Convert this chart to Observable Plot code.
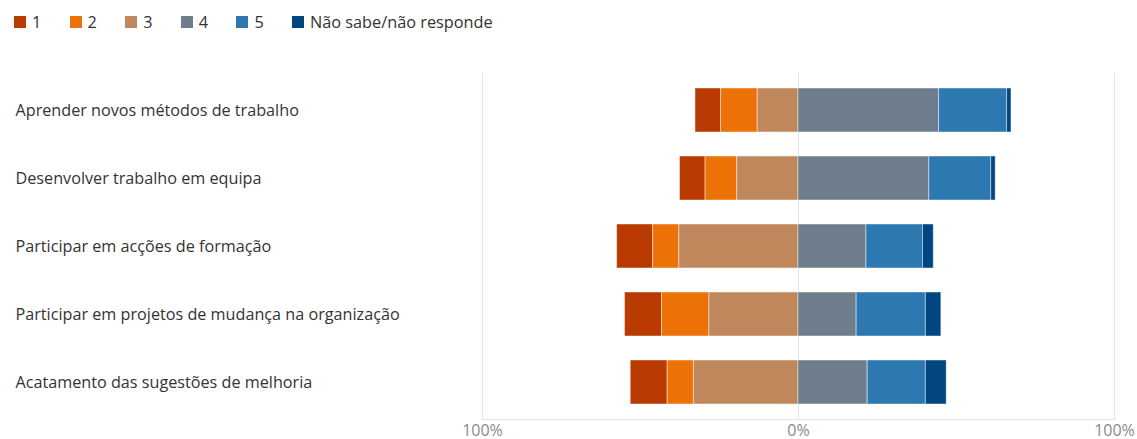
<!DOCTYPE html>
<html>
<head>
<meta charset="utf-8">
<script src="https://cdn.jsdelivr.net/npm/d3@7"></script>
<script src="https://cdn.jsdelivr.net/npm/@observablehq/plot@0.6"></script>
<style>
  html, body { margin: 0; padding: 0; background: #fff; }
  body { width: 1137px; height: 439px; overflow: hidden; font-family: "Open Sans", sans-serif; }
  #legend { box-sizing: border-box; height: 40px; padding-top: 3px; display: flex; align-items: center; padding-left: 14px; font-size: 16.3px; color: #333; }
  .item { display: flex; align-items: center; width: 55.6px; flex: none; }
  .item:last-child { width: auto; }
  .sw { width: 12px; height: 12px; margin-right: 6px; flex: none; }
</style>
</head>
<body>
<div id="legend"></div>
<div id="chart"></div>
<script>
const categories = [
  "Aprender novos métodos de trabalho",
  "Desenvolver trabalho em equipa",
  "Participar em acções de formação",
  "Participar em projetos de mudança na organização",
  "Acatamento das sugestões de melhoria"
];
const series = ["1", "2", "3", "4", "5", "Não sabe/não responde"];
const colors = ["#b93b02", "#ec7207", "#c0875d", "#6f7e8d", "#2c78b1", "#014581"];
// percentages per series, in category order
const v1 = [8.1, 8.1, 11.4, 11.7, 11.7];
const v2 = [11.6, 10.0, 8.3, 15.0, 8.3];
const v3 = [12.9, 19.4, 37.7, 28.2, 33.1];
const v4 = [44.5, 41.4, 21.5, 18.4, 21.9];
const v5 = [21.5, 19.6, 17.9, 21.9, 18.4];
const vNS = [1.4, 1.4, 3.4, 4.9, 6.6];
const xTicks = [-100, 0, 100];

const valuesBySeries = [v1, v2, v3, v4, v5, vNS];
const negativeSeries = new Set(["1", "2", "3"]);
const data = [];
series.forEach((s, si) => {
  categories.forEach((c, ci) => {
    const v = valuesBySeries[si][ci];
    data.push({category: c, series: s, value: negativeSeries.has(s) ? -v : v});
  });
});

// legend
const legend = document.getElementById("legend");
series.forEach((s, i) => {
  const it = document.createElement("div");
  it.className = "item";
  it.innerHTML = `<div class="sw" style="background:${colors[i]}"></div><span>${s}</span>`;
  legend.appendChild(it);
});

const chart = Plot.plot({
  width: 1137,
  height: 399,
  marginLeft: 482,
  marginRight: 23,
  marginTop: 33,
  marginBottom: 20,
  style: {fontFamily: "'Open Sans', sans-serif", background: "#fff", overflow: "visible"},
  x: {domain: [-100, 100], label: null},
  y: {domain: categories, paddingInner: 0.35, paddingOuter: 0.19, label: null},
  color: {domain: series, range: colors},
  marks: [
    Plot.ruleX(xTicks, {stroke: "#e3e3e3", strokeWidth: 1}),
    Plot.frame({anchor: "bottom", stroke: "#e3e3e3"}),
    Plot.barX(data, Plot.stackX({
      x: "value",
      y: "category",
      fill: "series",
      order: ["3", "2", "1", "4", "5", "Não sabe/não responde"],
      stroke: "#ffffff",
      strokeOpacity: 0.45,
      strokeWidth: 1,
      inset: 0
    })),
    Plot.axisX({ticks: xTicks, tickSize: 0, tickPadding: 5, label: null, tickFormat: d => Math.abs(d) + "%", fill: "#8a8a8a", fontSize: 16}),
    Plot.axisY({ticks: [], label: null}),
    Plot.text(categories, {y: d => d, text: d => d, frameAnchor: "left", textAnchor: "start", dx: -467, fontSize: 16.2, fill: "#333"})
  ]
});
document.getElementById("chart").appendChild(chart);
</script>
</body>
</html>
